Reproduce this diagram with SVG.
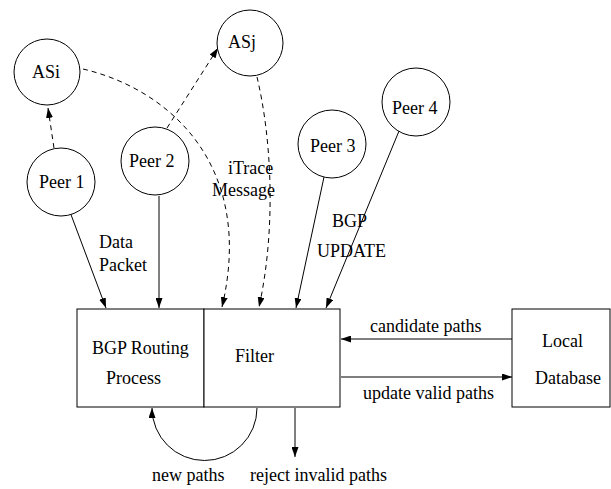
<svg xmlns="http://www.w3.org/2000/svg" width="611" height="489" viewBox="0 0 611 489">
  <style>
    text { font-family: "Liberation Serif", "Times New Roman", serif; font-size: 18px; fill: #000; }
    .node circle, .node rect { fill: #fff; stroke: #000; stroke-width: 1; }
    .edge { fill: none; stroke: #000; stroke-width: 1; }
    .dash { stroke-dasharray: 5 4; }
  </style>
  <defs>
    <marker id="arrow" viewBox="0 0 10 7" refX="10" refY="3.5" markerWidth="10" markerHeight="7" markerUnits="userSpaceOnUse" orient="auto">
      <path d="M0,0 L10,3.5 L0,7 Z" fill="#000"/>
    </marker>
  </defs>

  <rect width="611" height="489" fill="#fff"/>

  <!-- connectors -->
  <g id="connectors">
    <path class="edge dash" d="M54,148 L48,108" marker-end="url(#arrow)"/>
    <path class="edge dash" d="M167,128 L218,48" marker-end="url(#arrow)"/>
    <path class="edge dash" d="M83,69 C172,90 255,168 222,307" marker-end="url(#arrow)"/>
    <path class="edge dash" d="M257,77 C272,140 276,230 259,307" marker-end="url(#arrow)"/>
    <path class="edge" d="M70,212 L106,308" marker-end="url(#arrow)"/>
    <path class="edge" d="M159,196 L159,308" marker-end="url(#arrow)"/>
    <path class="edge" d="M324,177 L296,308" marker-end="url(#arrow)"/>
    <path class="edge" d="M399,131 L326,308" marker-end="url(#arrow)"/>
    <path class="edge" d="M512,339 L341,339" marker-end="url(#arrow)"/>
    <path class="edge" d="M341,377 L512,377" marker-end="url(#arrow)"/>
    <path class="edge" d="M257,408 A52.5,52.5 0 0 1 152,408" marker-end="url(#arrow)"/>
    <path class="edge" d="M295,408 L295,457" marker-end="url(#arrow)"/>
  </g>

  <!-- nodes -->
  <g id="asi" class="node">
    <circle cx="47" cy="72" r="33"/>
    <text x="32" y="78">ASi</text>
  </g>
  <g id="asj" class="node">
    <circle cx="250" cy="43" r="33"/>
    <text x="228" y="48">ASj</text>
  </g>
  <g id="peer1" class="node">
    <circle cx="61" cy="182" r="34"/>
    <text x="39" y="188">Peer 1</text>
  </g>
  <g id="peer2" class="node">
    <circle cx="155" cy="161" r="34"/>
    <text x="129" y="167">Peer 2</text>
  </g>
  <g id="peer3" class="node">
    <circle cx="332" cy="144" r="34"/>
    <text x="310" y="152">Peer 3</text>
  </g>
  <g id="peer4" class="node">
    <circle cx="416" cy="102" r="34"/>
    <text x="392" y="114">Peer 4</text>
  </g>
  <g id="bgp-routing" class="node">
    <rect x="77" y="309" width="127" height="98"/>
    <text x="92" y="354">BGP Routing</text>
    <text x="106" y="384">Process</text>
  </g>
  <g id="filter" class="node">
    <rect x="204" y="309" width="136" height="98"/>
    <text x="235" y="362">Filter</text>
  </g>
  <g id="local-database" class="node">
    <rect x="512" y="309" width="98" height="98"/>
    <text x="542" y="347">Local</text>
    <text x="535" y="384">Database</text>
  </g>

  <!-- connector labels -->
  <g id="labels">
    <text x="99" y="248">Data</text>
    <text x="99" y="271">Packet</text>
    <text x="228" y="174">iTrace</text>
    <text x="212" y="196">Message</text>
    <text x="332" y="227">BGP</text>
    <text x="317" y="257">UPDATE</text>
    <text x="370" y="332">candidate paths</text>
    <text x="363" y="399">update valid paths</text>
    <text x="152" y="481">new paths</text>
    <text x="250" y="481">reject invalid paths</text>
  </g>
</svg>
